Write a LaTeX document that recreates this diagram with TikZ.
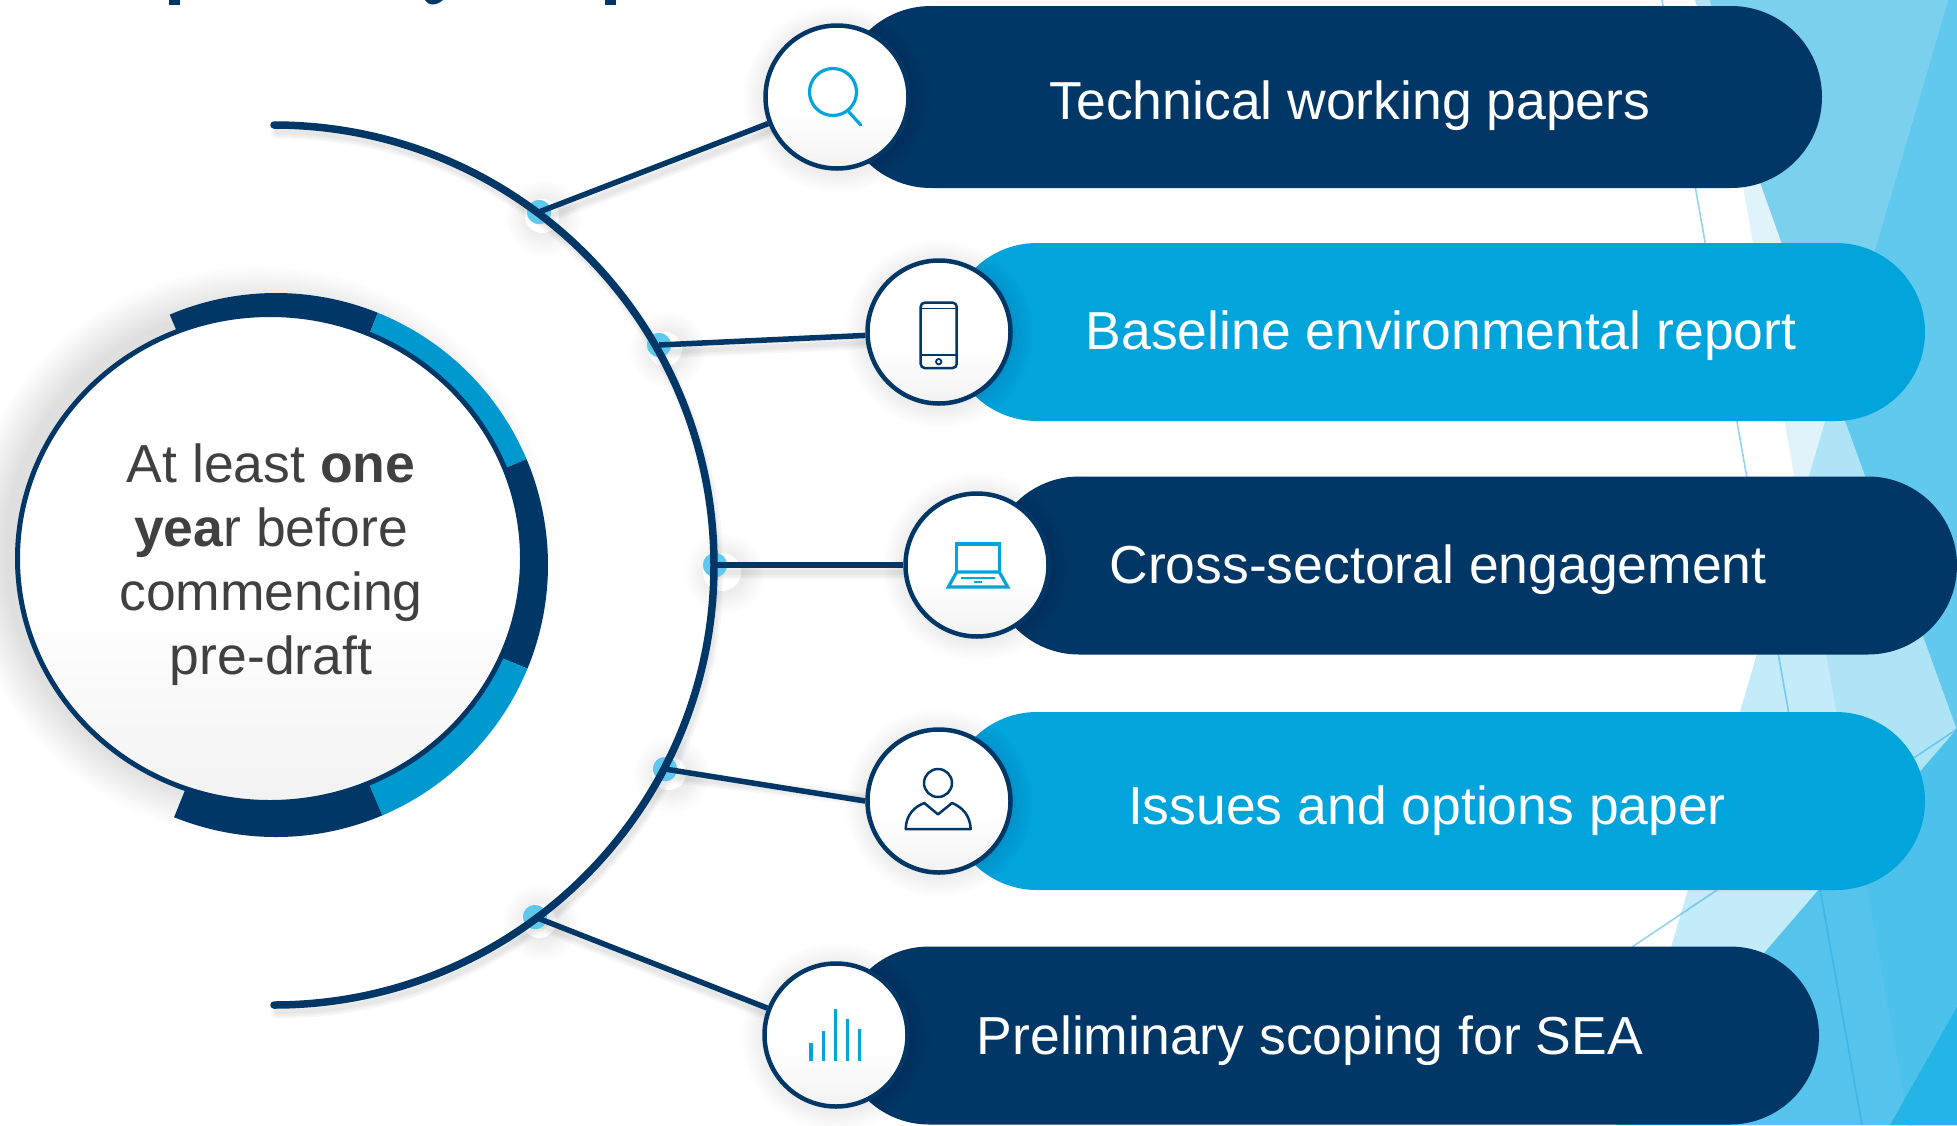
\documentclass[tikz,border=0pt]{standalone}
\usepackage{fontspec}
\setmainfont{Liberation Sans}
\usetikzlibrary{shapes.geometric,shapes.misc}
\definecolor{navy}{HTML}{003766}
\definecolor{sky}{HTML}{02A4DC}
\definecolor{ringblue}{HTML}{0099CF}
\definecolor{dotblue}{HTML}{5FC8EE}
\definecolor{inktext}{HTML}{404040}
\definecolor{bgA}{HTML}{E0F3FB}
\definecolor{bgB}{HTML}{C4EBF9}
\definecolor{bgC}{HTML}{AFE4F7}
\definecolor{bgD}{HTML}{7BD0EE}
\definecolor{bgE}{HTML}{61C8EE}
\definecolor{bgF}{HTML}{55C3EC}
\definecolor{bgG}{HTML}{4BC1EC}
\definecolor{bgH}{HTML}{25B4E6}
\definecolor{bgS}{HTML}{B5E4F6}
\definecolor{hair}{HTML}{29ABE2}
\pgfdeclareverticalshading{disc}{100bp}{color(0bp)=(black!5); color(25bp)=(black!5); color(45bp)=(white); color(100bp)=(white)}
\tikzset{
  pill/.style={shape=rounded rectangle,inner sep=0pt,minimum height=#1},
  pilldark/.style={pill=178pt,fill=navy},
  pilllight/.style={pill=178pt,fill=sky},
  icondisc/.style={shape=circle,draw=navy,line width=4.5pt,inner sep=0pt,minimum size=143pt,shade,shading=disc},
  rowlabel/.style={anchor=base,text=white,font=\fontsize{53.5}{60}\selectfont,inner sep=0pt},
  centertext/.style={text=inktext,font=\fontsize{53.5}{64}\selectfont,align=center,inner sep=0pt},
  dotnode/.style={shape=circle,fill=dotblue,inner sep=0pt,minimum size=24pt},
  halo/.style={shape=circle,fill=white,inner sep=0pt,minimum size=34pt},
  connector/.style={draw=navy,line width=5.5pt},
  connshadow/.style={draw=black,opacity=.03,line cap=round},
  blueicon/.style={draw=sky,line width=3.2pt},
  navyicon/.style={draw=navy,line width=2.5pt},
  hairline/.style={draw=hair,opacity=.5,line width=1.6pt},
}
\newcommand{\softdisc}[3]{\foreach \k in {1,...,9}{\fill[black,opacity=.009] (#1,#2) circle[radius={(#3+\k*2.4)*1pt}];}}
\newcommand{\softlink}[2]{%
  \foreach \w in {5,9,13}{\path[connshadow,line width=\w pt] ([shift={(3,7)}]#1) -- ([shift={(3,7)}]#2);}}
\begin{document}
\begin{tikzpicture}[x=1pt,y=-1pt]
\useasboundingbox (0,0) rectangle (1957,1125);
\fill[white] (0,0) rectangle (1957,1125);
% background facets
\fill[bgA] (1710,0) -- (1957,0) -- (1957,1125) -- (1909,1125) -- cycle;
\fill[bgB] (1800,507) -- (1909,1125) -- (1619,1125) -- cycle;
\fill[bgC] (1800,507) -- (1948,0) -- (1957,0) -- (1957,1125) -- (1909,1125) -- cycle;
\fill[bgD] (1695,0) -- (1948,0) -- (1834,390) -- cycle;
\fill[bgS] (1695,0) -- (1710,0) -- (1725,83) -- cycle;
\fill[bgE] (1948,0) -- (1957,0) -- (1957,730) -- (1834,390) -- cycle;
\fill[bgF] (1957,729) -- (1957,1125) -- (1616,1125) -- cycle;
\fill[bgG] (1859,842) -- (1957,729) -- (1957,1125) -- (1909,1125) -- cycle;
\fill[bgH] (1957,1007) -- (1890,1125) -- (1957,1125) -- cycle;
\draw[hairline] (1662,0) -- (1862,1125);
\draw[hairline] (1632,947) -- (1957,729);
% clipped title fragments
\fill[navy] (169,0) rectangle (180,5);
\fill[navy] (425,0) .. controls (428,6) and (436,6) .. (443,0) -- cycle;
\fill[navy] (605,0) rectangle (616,5);
% pills
\node[pilldark,minimum width=982pt,minimum height=182pt] (p1) at (1331,97) {};
\node[pilllight,minimum width=977pt] (p2) at (1436.5,332) {};
\node[pilldark,minimum width=967pt] (p3) at (1473.5,565.5) {};
\node[pilllight,minimum width=977pt] (p4) at (1436.5,801) {};
\node[pilldark,minimum width=979pt] (p5) at (1329.5,1035.5) {};
\node[rowlabel] (t1) at (1350,119) {Technical working papers};
\node[rowlabel] (t2) at (1441,349) {Baseline environmental report};
\node[rowlabel] (t3) at (1438,583) {Cross-sectoral engagement};
\node[rowlabel] (t4) at (1427,824) {Issues and options paper};
\node[rowlabel] (t5) at (1310,1054) {Preliminary scoping for SEA};
% centre soft shadow
\foreach \k in {1,...,16}{\fill[black,opacity=.008] (259,552) ellipse[x radius={(252+\k*2.6)*1pt},y radius={(244+\k*2.6)*1pt}];}
% ring
\fill[navy] (276,565) -- +(113:272pt) arc[start angle=113,end angle=68,radius=272pt] -- cycle;
\fill[ringblue] (276,565) -- +(68:272pt) arc[start angle=68,end angle=22.9,radius=272pt] -- cycle;
\fill[navy] (276,565) -- +(22.9:272pt) arc[start angle=22.9,end angle=-22.4,radius=272pt] -- cycle;
\fill[ringblue] (276,565) -- +(-22.4:272pt) arc[start angle=-22.4,end angle=-67,radius=272pt] -- cycle;
\fill[navy] (276,565) -- +(-67:272pt) arc[start angle=-67,end angle=-112,radius=272pt] -- cycle;
\node[shape=ellipse,draw=navy,line width=5pt,inner sep=0pt,minimum width=505pt,minimum height=488pt,shade,shading=disc] (core) at (270,558.5) {};
\node[centertext] (ct) at (271,565) {At least \textbf{one}\\\textbf{yea}r before\\commencing\\pre-draft};
% dot halos
\softdisc{725}{574}{18}\softdisc{544}{218}{16}\softdisc{668}{350}{16}\softdisc{672}{775}{16}\softdisc{541}{923}{16}
\node[halo] (h1) at (542,216) {};
\node[halo] (h2) at (665,349) {};
\node[halo,minimum size=38pt] (h3) at (722,572) {};
\node[halo] (h4) at (669,773) {};
\node[halo] (h5) at (539,921) {};
% icon disc positions
\coordinate (c1) at (837,97);
\coordinate (c2) at (939,332);
\coordinate (c3) at (977,565);
\coordinate (c4) at (939,801);
\coordinate (c5) at (836,1035);
% connector end positions on the big arc
\node[dotnode] (d1) at (539,212) {};
\node[dotnode] (d2) at (659,345) {};
\node[dotnode] (d3) at (715,565) {};
\node[dotnode] (d4) at (665,769) {};
\node[dotnode] (d5) at (535,917) {};
% big arc shadow, link shadows, disc shadows
\foreach \w in {5,9,13}{\draw[connshadow,line width=\w pt] (277,132) arc[start angle=90,end angle=-90,radius=440pt];}
\softlink{d1.center}{c1}\softlink{d2.center}{c2}\softlink{d3.center}{c3}\softlink{d4.center}{c4}\softlink{d5.center}{c5}
\softdisc{837}{99}{72}\softdisc{939}{334}{72}\softdisc{977}{567}{72}\softdisc{939}{803}{72}\softdisc{836}{1037}{72}
% redraw dots above the shadows
\fill[dotblue] (d1) circle[radius=12pt] (d2) circle[radius=12pt] (d3) circle[radius=12pt] (d4) circle[radius=12pt] (d5) circle[radius=12pt];
% big arc
\draw[navy,line width=7.5pt,line cap=round] (274,125) arc[start angle=90,end angle=-90,radius=440pt];
% discs
\node[icondisc] (i1) at (c1) {};
\node[icondisc] (i2) at (c2) {};
\node[icondisc] (i3) at (c3) {};
\node[icondisc] (i4) at (c4) {};
\node[icondisc] (i5) at (c5) {};
% connectors
\draw[connector] (d1.center) -- (i1);
\draw[connector] (d2.center) -- (i2);
\draw[connector] (d3.center) -- (i3);
\draw[connector] (d4.center) -- (i4.west);
\draw[connector] (d5.center) -- (i5);
% search icon
\draw[blueicon] (833,92) circle[radius=23.5pt];
\draw[blueicon,line cap=round] (849,112) -- (860.7,125);
% phone icon
\draw[navyicon,rounded corners=4pt] (920.7,302.7) rectangle (956.7,368);
\draw[navy,line width=1.8pt] (920.7,308.5) -- (956.7,308.5) (920.7,355) -- (956.7,355);
\draw[navy,line width=1.8pt] (938.7,361.7) circle[radius=2.7pt];
% laptop icon
\draw[blueicon,line join=miter] (956.7,572) -- (956.7,544) -- (999.3,544) -- (999.3,572);
\draw[blueicon,line join=miter] (956.7,572) -- (948.3,587) -- (1007.7,587) -- (999.3,572) -- cycle;
\draw[sky,line width=2pt] (961,577.5) -- (995,577.5);
\draw[sky,line width=2pt] (974,581.5) -- (982,581.5);
% person icon
\draw[navyicon] (938,783) circle[radius=14pt];
\draw[navyicon,line join=round] (905.7,829) .. controls (906,815) and (914,807) .. (924.3,803) -- (938,814.4) -- (952,803) .. controls (962,807) and (970,815) .. (970.7,829) -- cycle;
% bars icon
\draw[sky,line width=3.4pt] (811,1060.5) -- (811,1043.4);
\draw[sky,line width=3.4pt] (823.3,1060.5) -- (823.3,1031);
\draw[sky,line width=3.4pt] (835.3,1060.5) -- (835.3,1009.4);
\draw[sky,line width=3.4pt] (847.3,1060.5) -- (847.3,1018.5);
\draw[sky,line width=3.4pt] (859.7,1060.5) -- (859.7,1029.3);
\end{tikzpicture}
\end{document}
